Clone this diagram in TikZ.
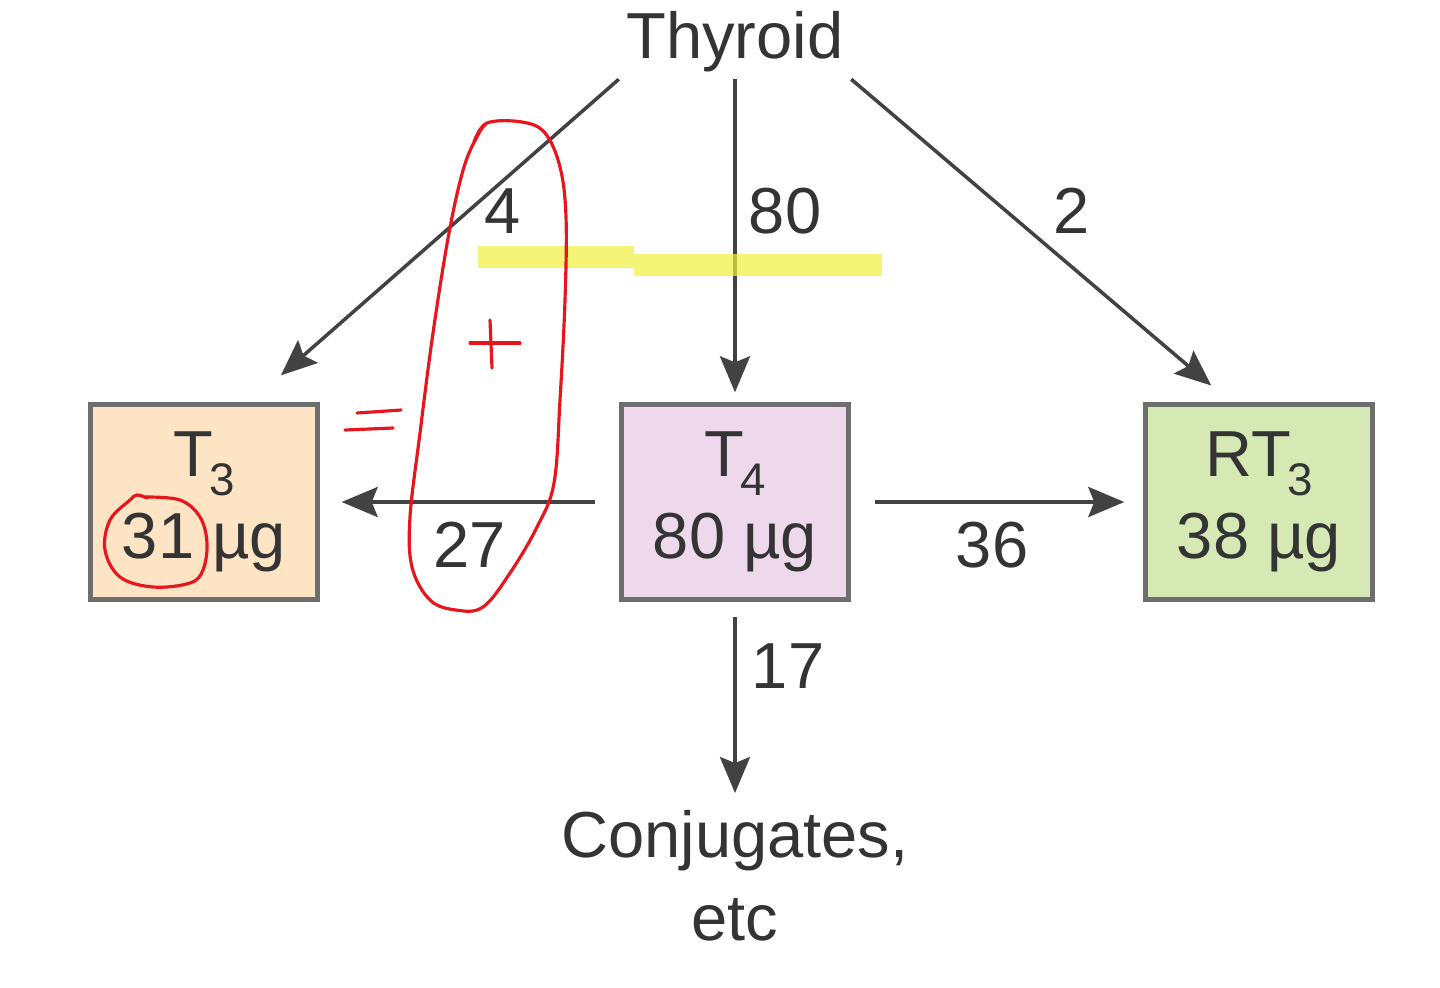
\documentclass[tikz,border=0pt]{standalone}
\usepackage{fontspec}
\setmainfont{Liberation Sans}
\usetikzlibrary{arrows.meta,calc}
\definecolor{peach}{RGB}{252,228,196}
\definecolor{palepink}{RGB}{238,216,236}
\definecolor{palegreen}{RGB}{214,232,180}
\definecolor{boxgray}{RGB}{110,110,110}
\definecolor{linegray}{RGB}{66,66,66}
\definecolor{textgray}{RGB}{52,52,52}
\definecolor{penred}{RGB}{232,22,28}
\definecolor{marker}{RGB}{240,240,60}
\newcommand{\lowsub}[1]{\kern-0.06em\raisebox{-0.3em}{\fontsize{13}{13}\selectfont #1}}

\begin{document}
\begin{tikzpicture}[x=0.01cm,y=-0.01cm,
		every node/.style={text=textgray,font=\fontsize{18.5}{23.5}\selectfont,inner sep=2pt},
		hormonebox/.style={draw=boxgray,line width=1.2pt,minimum width=2.27cm,minimum height=1.95cm,inner sep=0pt,align=center},
		flow/.style={draw=linegray,line width=1pt,-{Stealth[length=0.36cm,width=0.3cm,inset=0.06cm]}},
		pen/.style={draw=penred,line width=0.9pt,line cap=round,line join=round}]
				\useasboundingbox (0,0) rectangle (1440,987);
				\node[anchor=base] (thyroid) at (735,58) {Thyroid};
				\node[hormonebox,fill=peach] (t3) at (204,502) {T\lowsub{3}\\31 µg};
				\node[hormonebox,fill=palepink] (t4) at (735,502) {T\lowsub{4}\\80 µg};
				\node[hormonebox,fill=palegreen] (rt3) at (1259,502) {RT\lowsub{3}\\38 µg};
				\node[align=center] (conj) at (735,876) {Conjugates,\\etc};
				\node[anchor=base] (n4) at (503,233) {4};
				\node[anchor=base] (n80) at (785,233) {80};
				\node[anchor=base] (n2) at (1072,233) {2};
				\node[anchor=base] (n27) at (470,567) {27};
				\node[anchor=base] (n36) at (992,567) {36};
				\node[anchor=base] (n17) at (788,688) {17};
				\draw[flow,shorten >=0.41cm] (thyroid.south west) -- ($(t3.north)+(46,0)$);
				\draw[flow,shorten >=0.1cm] (thyroid.south) -- (t4.north);
				\draw[flow,shorten >=0.26cm] (thyroid.south east) -- ($(rt3.north)+(-28,0)$);
				\draw[flow,shorten <=0.24cm,shorten >=0.22cm] (t4.west) -- (t3.east);
				\draw[flow,shorten <=0.24cm,shorten >=0.19cm] (t4.east) -- (rt3.west);
				\draw[flow,shorten <=0.15cm,shorten >=0.1cm] (t4.south) -- (conj.north);
				% highlighter and pen marks
				\fill[marker,opacity=0.7] (478,246) rectangle (634,268);
				\fill[marker,opacity=0.7] (634,254) rectangle (882,276);
				\draw[pen] plot[smooth,tension=0.6] coordinates {(474,142) (487,123) (522,122) (545,133) (560,167) (566,217) (565,300) (560,400) (554,483) (537,527) (510,573) (483,607) (456,610) (430,600) (412,567) (410,517) (420,433) (433,333) (449,233) (464,167) (479,133) (487,123)};
				\draw[pen] (470,343) -- (520,343);
				\draw[pen] (490,320) -- (492,368);
				\draw[pen] (357,413) -- (401,410);
				\draw[pen] (345,430) -- (393,428);
				\draw[pen] plot[smooth,tension=0.6] coordinates {(145,497) (180,500) (200,517) (207,543) (203,570) (190,583) (153,587) (120,577) (105,550) (110,520) (130,500) (137,495) (147,498)};
\end{tikzpicture}
\end{document}
